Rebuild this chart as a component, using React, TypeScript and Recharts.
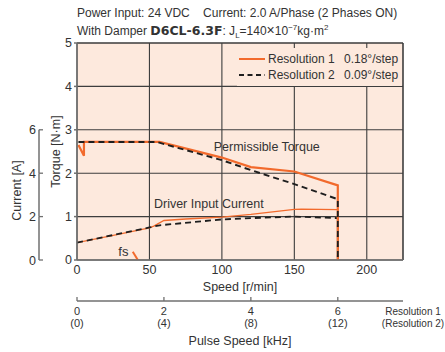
import { LineChart, Line, XAxis, YAxis, CartesianGrid, ReferenceLine, ReferenceDot, Legend } from 'recharts';

const FONT = '"Liberation Sans", Arial, sans-serif';
const ORANGE = '#f26a2c';
const DARK = '#1e1e1e';
const PEACH = '#fde9dd';
const GRID = '#3d3d3d';
const AXIS = '#707070';
const TEXT = '#333333';

// axes
const speedTicks = [0, 50, 100, 150, 200];
const torqueTicks = [0, 1, 2, 3, 4, 5];
const currentTicks = [0, 2, 4, 6];
const pulseTicksRes1 = [0, 2, 4, 6]; // kHz
const pulseTicksRes2 = [0, 4, 8, 12]; // kHz

// permissible torque [N·m] vs speed [r/min]
const res1TorqueSpeed = [1, 4.8, 4.8, 57, 100, 120, 150, 180, 180];
const res1Torque = [2.65, 2.4, 2.72, 2.72, 2.36, 2.14, 2.04, 1.72, 0];
const res2TorqueSpeed = [1, 55, 100, 120, 150, 180, 180];
const res2Torque = [2.72, 2.72, 2.3, 2.07, 1.75, 1.4, 0];

// driver input current [A] vs speed [r/min]
const res1CurrentSpeed = [0, 25, 50, 53, 60, 75, 100, 120, 150, 155, 180, 180];
const res1Current = [0.8, 1.13, 1.48, 1.56, 1.82, 1.89, 1.98, 2.1, 2.33, 2.34, 2.32, 0];
const res2CurrentSpeed = [0, 50, 57, 100, 120, 150, 180, 180];
const res2Current = [0.8, 1.5, 1.6, 1.87, 1.93, 2.0, 1.93, 0];

// starting pulse rate marker
const fsSpeed = [38.5, 42];
const fsTorque = [0.19, 0];

const legendNames = ['Resolution 1', 'Resolution 2'];
const legendSteps = ['0.18°/step', '0.09°/step'];

const zip = (xs: number[], ys: number[], key: string) => xs.map((s, i) => ({ speed: s, [key]: ys[i] }));
// anchor points so the pulse-speed axis gets its ticks (drawn invisibly)
const pulseAnchor = pulseTicksRes1.map((k) => ({ pulse: k, torque: 0 }));

const CHART_W = 445;
const CHART_H = 352;
const MARGIN = { top: 43, right: 42, left: 8, bottom: 0 };
const SPEED_AXIS_H = 41;
const PULSE_AXIS_H = 51;
const PLOT_H = CHART_H - MARGIN.top - MARGIN.bottom - SPEED_AXIS_H - PULSE_AXIS_H;
const CURRENT_MAX = 10;

// axis ids: sorted so speed / torque sit next to the plot
const X_SPEED = 'a_speed';
const X_PULSE = 'b_pulse';
const Y_TORQUE = 'a_torque';
const Y_CURRENT = 'b_current';

const CurrentTick = (props: any) => {
  const { x, y, payload } = props;
  const step = (PLOT_H * 2) / CURRENT_MAX;
  return (
    <g>
      <line x1={x} y1={y} x2={x + 4} y2={y} stroke={AXIS} strokeWidth={1.3} />
      {payload.value < 6 && <line x1={x} y1={y} x2={x} y2={y - step} stroke={AXIS} strokeWidth={1.5} />}
      <text x={x - 3} y={y} dy="0.36em" textAnchor="end" fill={TEXT} fontSize={12.5} fontFamily={FONT}>
        {payload.value}
      </text>
    </g>
  );
};

const PulseTick = (props: any) => {
  const { x, y, payload } = props;
  const i = pulseTicksRes1.indexOf(payload.value);
  return (
    <g>
      <line x1={x} y1={y} x2={x} y2={y - 4} stroke={AXIS} strokeWidth={1.3} />
      <text x={x} y={y + 14} textAnchor="middle" fill={TEXT} fontSize={11} fontFamily={FONT}>
        {payload.value}
      </text>
      <text x={x} y={y + 26} textAnchor="middle" fill={TEXT} fontSize={11} fontFamily={FONT}>
        ({pulseTicksRes2[i]})
      </text>
    </g>
  );
};

const LegendBox = () => (
  <div style={{ background: PEACH, padding: '3px 0 3px 2px', fontFamily: FONT, fontSize: 12, color: TEXT }}>
    {legendNames.map((name, i) => (
      <div key={name} style={{ display: 'flex', alignItems: 'center', height: 16, whiteSpace: 'nowrap' }}>
        <svg width={26} height={4}>
          <line
            x1={0}
            y1={2}
            x2={26}
            y2={2}
            stroke={i === 0 ? ORANGE : DARK}
            strokeWidth={i === 0 ? 2 : 1.8}
            strokeDasharray={i === 0 ? undefined : '5 3.5'}
          />
        </svg>
        <span style={{ marginLeft: 3, width: 76 }}>{name}</span>
        <span>{legendSteps[i]}</span>
      </div>
    ))}
  </div>
);

const textStyle = { fill: TEXT, fontFamily: FONT };

export default function App() {
  return (
    <div style={{ position: 'absolute', left: 0, top: 0, width: CHART_W, height: CHART_H }}>
      <div
        style={{
          position: 'absolute',
          left: 77,
          top: 5,
          font: `12px ${FONT}`,
          lineHeight: '17px',
          color: TEXT,
          whiteSpace: 'pre',
          zIndex: 2,
        }}
      >
        <div>Power Input: 24 VDC    Current: 2.0 A/Phase (2 Phases ON)</div>
        <div>
          With Damper <b style={{ fontFamily: '"DejaVu Sans", sans-serif', fontSize: 12.5 }}>D6CL-6.3F</b>: J
          <sub style={{ fontSize: 8, lineHeight: 0 }}>L</sub>=140<span style={{ fontSize: 14 }}>×</span>10
          <sup style={{ fontSize: 8, lineHeight: 0 }}>−7</sup>kg·m<sup style={{ fontSize: 8, lineHeight: 0 }}>2</sup>
        </div>
      </div>
      <LineChart width={CHART_W} height={CHART_H} margin={MARGIN}>
        <CartesianGrid xAxisId={X_SPEED} yAxisId={Y_TORQUE} stroke={GRID} strokeWidth={1.1} fill={PEACH} fillOpacity={1} />
        <XAxis
          xAxisId={X_PULSE}
          dataKey="pulse"
          type="number"
          domain={[0, 7.5]}
          allowDataOverflow
          ticks={pulseTicksRes1}
          interval={0}
          height={PULSE_AXIS_H}
          stroke={AXIS}
          strokeWidth={1.5}
          tickLine={false}
          tickSize={0}
          tickMargin={0}
          tick={<PulseTick />}
          label={{
            content: ({ viewBox }: any) => (
              <g>
                <text x={viewBox.x + viewBox.width / 2} y={viewBox.y + 44} textAnchor="middle" fontSize={12.5} {...textStyle}>
                  Pulse Speed [kHz]
                </text>
                <text x={viewBox.x + viewBox.width + 10} y={viewBox.y + 14} textAnchor="middle" fontSize={10} {...textStyle}>
                  Resolution 1
                </text>
                <text x={viewBox.x + viewBox.width + 10} y={viewBox.y + 26} textAnchor="middle" fontSize={10} {...textStyle}>
                  (Resolution 2)
                </text>
              </g>
            ),
          }}
        />
        <XAxis
          xAxisId={X_SPEED}
          dataKey="speed"
          type="number"
          domain={[0, 225]}
          ticks={speedTicks}
          allowDataOverflow
          height={SPEED_AXIS_H}
          stroke={AXIS}
          strokeWidth={1.5}
          tickLine={false}
          tickSize={0}
          tickMargin={5}
          tick={{ ...textStyle, fontSize: 12.5 }}
          label={{
            content: ({ viewBox }: any) => (
              <text x={viewBox.x + viewBox.width / 2} y={viewBox.y + 31} textAnchor="middle" fontSize={12.5} {...textStyle}>
                Speed [r/min]
              </text>
            ),
          }}
        />
        <YAxis
          yAxisId={Y_CURRENT}
          type="number"
          domain={[0, CURRENT_MAX]}
          allowDataOverflow
          ticks={currentTicks}
          width={31}
          axisLine={false}
          tickLine={false}
          tickSize={0}
          tickMargin={0}
          tick={<CurrentTick />}
          label={{
            content: ({ viewBox }: any) => {
              const cx = viewBox.x + 9;
              const cy = viewBox.y + viewBox.height * 0.68;
              return (
                <text x={cx} y={cy} dy="0.35em" textAnchor="middle" transform={`rotate(-90 ${cx} ${cy})`} fontSize={12.5} {...textStyle}>
                  Current [A]
                </text>
              );
            },
          }}
        />
        <YAxis
          yAxisId={Y_TORQUE}
          type="number"
          domain={[0, 5]}
          allowDataOverflow
          ticks={torqueTicks}
          width={38}
          stroke={AXIS}
          strokeWidth={1.5}
          tickSize={3}
          tickMargin={2}
          tick={{ ...textStyle, fontSize: 12.5 }}
          label={{
            content: ({ viewBox }: any) => {
              const cx = viewBox.x + 17;
              const cy = viewBox.y + viewBox.height / 2;
              return (
                <text x={cx} y={cy} dy="0.35em" textAnchor="middle" transform={`rotate(-90 ${cx} ${cy})`} fontSize={12.5} {...textStyle}>
                  Torque [N·m]
                </text>
              );
            },
          }}
        />
        <ReferenceLine xAxisId={X_SPEED} yAxisId={Y_TORQUE} y={5} stroke={GRID} strokeWidth={1.1} />
        <ReferenceLine xAxisId={X_SPEED} yAxisId={Y_TORQUE} x={225} stroke={GRID} strokeWidth={1.1} />

        <Line
          xAxisId={X_PULSE}
          yAxisId={Y_TORQUE}
          data={pulseAnchor}
          dataKey="torque"
          stroke="none"
          dot={false}
          activeDot={false}
          legendType="none"
          isAnimationActive={false}
        />
        <Line
          xAxisId={X_SPEED}
          yAxisId={Y_CURRENT}
          data={zip(res1CurrentSpeed, res1Current, 'current')}
          dataKey="current"
          type="linear"
          stroke={ORANGE}
          strokeWidth={1.3}
          dot={false}
          isAnimationActive={false}
        />
        <Line
          xAxisId={X_SPEED}
          yAxisId={Y_CURRENT}
          data={zip(res2CurrentSpeed, res2Current, 'current')}
          dataKey="current"
          type="linear"
          stroke={DARK}
          strokeWidth={1.8}
          strokeDasharray="6 4"
          dot={false}
          isAnimationActive={false}
        />
        <Line
          xAxisId={X_SPEED}
          yAxisId={Y_TORQUE}
          data={zip(res1TorqueSpeed, res1Torque, 'torque')}
          dataKey="torque"
          type="linear"
          stroke={ORANGE}
          strokeWidth={2.2}
          dot={false}
          isAnimationActive={false}
        />
        <Line
          xAxisId={X_SPEED}
          yAxisId={Y_TORQUE}
          data={zip(res2TorqueSpeed, res2Torque, 'torque')}
          dataKey="torque"
          type="linear"
          stroke={DARK}
          strokeWidth={1.9}
          strokeDasharray="6 4"
          dot={false}
          isAnimationActive={false}
        />
        <Line
          xAxisId={X_SPEED}
          yAxisId={Y_TORQUE}
          data={zip(fsSpeed, fsTorque, 'torque')}
          dataKey="torque"
          type="linear"
          stroke={ORANGE}
          strokeWidth={2}
          dot={false}
          isAnimationActive={false}
        />

        <ReferenceDot
          xAxisId={X_SPEED}
          yAxisId={Y_TORQUE}
          x={131}
          y={2.61}
          r={0}
          fill="none"
          stroke="none"
          label={{ value: 'Permissible Torque', position: 'center', fontSize: 12.5, ...textStyle }}
        />
        <ReferenceDot
          xAxisId={X_SPEED}
          yAxisId={Y_TORQUE}
          x={91}
          y={1.31}
          r={0}
          fill="none"
          stroke="none"
          label={{ value: 'Driver Input Current', position: 'center', fontSize: 12.5, ...textStyle }}
        />
        <ReferenceDot
          xAxisId={X_SPEED}
          yAxisId={Y_TORQUE}
          x={32}
          y={0.19}
          r={0}
          fill="none"
          stroke="none"
          label={{ value: 'fs', position: 'center', fontSize: 13, ...textStyle }}
        />
        <Legend
          layout="horizontal"
          verticalAlign="middle"
          align="center"
          content={<LegendBox />}
          wrapperStyle={{ position: 'absolute', left: 237, top: 48, width: 165 }}
        />
      </LineChart>
    </div>
  );
}
